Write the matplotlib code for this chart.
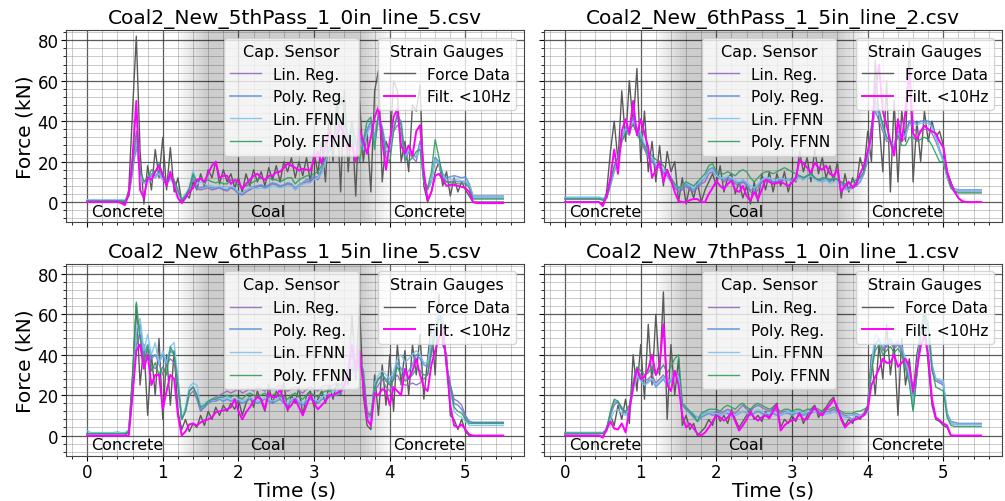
import numpy as np
import matplotlib
matplotlib.use("Agg")
import matplotlib.pyplot as plt
from matplotlib.ticker import MultipleLocator

# time axis, 0.05 s steps from 0 to 5.5 s
t = np.arange(111) * 0.05

titles = ["Coal2_New_5thPass_1_0in_line_5.csv", "Coal2_New_6thPass_1_5in_line_2.csv",
          "Coal2_New_6thPass_1_5in_line_5.csv", "Coal2_New_7thPass_1_0in_line_1.csv"]
regions = ["Concrete", "Coal", "Concrete"]
region_x = [0.05, 2.15, 4.05]

# ---- panel 1 ----
force_1 = [0, 0, 0, 0, 0, 0, 0, 0, 0, 0,
           -1, 6, 45, 82, 25, -1, 18, 6, 26, 12,
           32, 6, 27, 5, 12, 0, 4, 2, 10, 6,
           14, 8, 16, 12, 20, 9, 16, 10, 14, 7,
           12, 5, 14, 8, 16, 10, 15, 8, 17, 11,
           18, 10, 20, 15, 22, 12, 20, 13, 22, 10,
           25, 14, 30, 10, 45, 20, 50, 5, 55, 15,
           40, 3, 50, 20, 35, 5, 55, 65, 10, 30,
           25, 60, 55, 20, 30, 15, 48, 45, 58, 8,
           0, 5, 15, 20, 8, 15, 3, 12, 5, 10,
           6, 3, 0, 0, 0, 0, 0, 0, 0, 0,
           0]
filt_1 = [0, 0, 0, 0, 0, 0, 0, 0, 0.2, -0.5,
          -1.5, 4, 22, 50, 6, 2, 12, 11, 15, 18,
          13, 8, 15, 8, 2, -0.5, 2, 5, 7, 11,
          11.5, 10, 14, 18, 20, 12, 13, 13, 9, 11,
          10, 6.5, 9, 11, 13, 14, 12, 11, 13, 13,
          14.7, 15, 17, 19, 18, 17, 15.6, 16.4, 16, 15.6,
          21, 25, 19, 28, 35, 30, 33, 38, 33, 26,
          28, 20, 36, 30, 24, 32, 42, 47, 30, 16,
          30, 42, 46, 28, 24, 28, 23, 35, 38, 15,
          1, 5, 13, 14, 11, 8, 8.5, 8.5, 8, 7.5,
          7, 5, 0, -0.5, -0.5, -0.5, -0.5, -0.5, -0.5, -0.5,
          -0.5]
linreg_1 = [0.5, 0.5, 0.5, 0.5, 0.5, 0.5, 0.5, 0.5, 0.5, 0.3,
            0.5, 3, 15, 28, 14, 10, 11, 13, 12, 14,
            11, 9, 12, 10, 5, 1, 3, 6, 12, 6.5,
            6, 6.5, 7, 6, 6.5, 7, 6, 5.5, 7, 6,
            4, 3.5, 5, 6, 7, 7.5, 8, 7, 8, 9,
            8.5, 7.5, 8, 9, 8.5, 6, 8, 9, 10, 10,
            12, 11, 15, 20, 25, 28, 35, 40, 38, 30,
            35, 28, 30, 25, 35, 38, 30, 40, 35, 25,
            25, 35, 38, 36, 20, 25, 22, 20, 30, 10,
            6, 10, 22, 18, 12, 10, 10, 10.5, 10, 10,
            10, 8, 2, 2, 2, 2, 2, 2, 2, 2,
            2]
polyreg_1 = [0.7, 0.7, 0.7, 0.7, 0.7, 0.7, 0.7, 0.7, 0.7, 0.7,
             0.5, 3, 16, 30, 15, 10, 12, 14, 13, 15,
             12, 9.5, 12, 10, 5, 1, 3, 6, 13, 7,
             7, 7.5, 8, 7, 7, 7.5, 6.5, 6, 7.5, 6.5,
             4.5, 4, 6, 6.5, 7.5, 8, 8.5, 7.5, 8.5, 9.5,
             9, 8, 8.5, 9.5, 9, 6.5, 8.5, 9.5, 11, 11,
             13, 12, 16, 22, 27, 30, 36, 42, 40, 32,
             37, 30, 32, 28, 36, 40, 32, 42, 37, 27,
             27, 37, 42, 40, 22, 26, 24, 22, 30, 11,
             7, 11, 22, 20, 14, 12, 12.5, 13, 12.5, 12,
             12.5, 9, 3, 3, 3, 3, 3, 3, 3, 3,
             3]
linffnn_1 = [1.2, 1.2, 1.2, 1.2, 1.2, 1.2, 1.2, 1.2, 1.2, 1.2,
             1, 4, 17, 31, 14, 9, 10, 12, 12, 14,
             11, 9, 11, 9, 4, 1.5, 4, 7, 16, 9,
             10, 9, 8, 8, 7.5, 8, 7, 6.5, 8, 7,
             5, 4.5, 6, 7, 7, 6.5, 7, 6.5, 7, 8,
             7.5, 7, 7.5, 8, 8, 6, 8, 9, 9, 9.5,
             11, 12, 14, 20, 26, 30, 34, 38, 36, 30,
             34, 27, 30, 26, 34, 38, 30, 40, 34, 24,
             26, 36, 43, 38, 22, 26, 23, 22, 28, 10,
             7.5, 10, 21, 19, 13, 11, 11, 11, 11, 10.5,
             10.5, 8, 2.5, 2.5, 2.5, 2.5, 2.5, 2.5, 2.5, 2.5,
             2.5]
polyffnn_1 = [0.6, 0.6, 0.6, 0.6, 0.6, 0.6, 0.6, 0.6, 0.6, 0.6,
              0.5, 4, 18, 35, 16, 10, 12, 16, 15, 19,
              14, 10, 13, 11, 6, 1, 3, 7, 14, 10,
              12, 10, 11, 10, 9.5, 10, 9, 9, 11, 10,
              8, 7, 8, 9, 10, 11, 12, 11, 12, 11,
              11, 10, 11, 12, 12, 9, 11, 12, 13, 13,
              14, 15, 18, 22, 26, 30, 40, 52, 45, 28,
              38, 30, 20, 30, 40, 42, 26, 45, 35, 22,
              20, 35, 44, 38, 22, 20, 22, 25, 26, 10,
              7, 15, 31, 22, 12, 10, 9.5, 9.5, 9, 9,
              9, 7, 1.5, 1.5, 1.5, 1.5, 1.5, 1.5, 1.5, 1.5,
              1.5]

# ---- panel 2 ----
force_2 = [0, 0, 0, 0, 0, 0, 0, 0, 0, 0,
           -1, 5, 25, 40, 20, 55, 30, 60, 38, 66,
           20, 45, 15, 30, 10, 28, 8, 25, 15, 20,
           0, 12, -1, 8, 2, 10, 0, 6, 10, 14,
           8, 18, 5, 12, 14, 4, 10, 2, 8, -1,
           10, 0, 14, 6, 15, 5, 14, 8, 15, 5,
           12, 10, 25, 15, 22, 10, 26, 14, 22, 12,
           18, 10, 20, 2, 14, 5, 12, 8, 22, 15,
           35, 20, 70, 40, 15, 60, 5, 50, 10, 45,
           30, 80, 10, 40, 20, 45, 30, 40, 32, 35,
           28, 15, 10, 5, 2, 0, 0, 0, 0, 0,
           0]
filt_2 = [0, 0, 0, 0, 0, 0, 0, 0, 0, 0,
          -2, 3, 12, 26, 14, 35, 41, 34, 50, 33,
          41, 34, 27, 12, 16, 20, 10, 16, 11, 5,
          0.5, 0, 0, 1, 1.5, 1.5, 0, 0, 4, 7,
          10.5, 8, 6.4, 9, 10.5, 6, 5, 8, 3, 0.7,
          5, 1.5, 6, 11, 10, 9, 9.5, 10, 9, 8,
          9.5, 12, 21, 19, 17, 14.6, 19.5, 17, 16, 18,
          14, 13, 16, 5, 8, 10, 7, 9, 14, 18,
          25, 33, 55, 68, 45, 38, 30, 23, 41, 30,
          45, 66, 34, 31, 35, 37.7, 36, 35, 34, 30,
          27, 15, 9, 5, 2, 0.5, 0, 0, 0, 0,
          0]
linreg_2 = [1.5, 1.5, 1.5, 1.5, 1.5, 1.5, 1.5, 1.5, 1.5, 1.5,
            1, 2, 8, 15, 20, 30, 35, 33, 40, 34,
            30, 26, 22, 20, 17, 17, 14, 13, 10, 7,
            5, 6, 8, 6, 5, 7, 9, 10, 14, 15,
            13, 12, 10, 11, 10, 9, 8, 10, 8, 5,
            4, 6, 10, 12, 11, 10, 9, 10, 11, 11,
            10, 11, 12, 11, 13, 14, 12, 11, 10, 11,
            10, 12, 11, 10, 8, 7, 8, 10, 12, 15,
            20, 35, 45, 40, 35, 30, 30, 27, 33, 30,
            32, 40, 36, 35, 35, 36, 36, 34, 30, 25,
            20, 12, 7, 5.5, 5, 5, 5, 5, 5, 5,
            5]
polyreg_2 = [2, 2, 2, 2, 2, 2, 2, 2, 2, 2,
             1.5, 2.5, 9, 17, 22, 32, 37, 35, 42, 36,
             32, 27, 23, 21, 18, 18, 15, 14, 11, 8,
             6, 7, 9, 7, 6, 8, 10, 12, 16, 17,
             14, 12, 11, 12, 11, 10, 9, 11, 9, 6,
             6, 8, 11, 12, 11, 10, 10, 11, 11, 11,
             11, 12, 13, 12, 13, 14, 12, 11, 11, 12,
             10, 12, 11, 9, 7, 6, 7, 8, 10, 14,
             22, 36, 48, 44, 38, 32, 30, 28, 35, 32,
             34, 40, 40, 39, 40, 40, 40, 38, 33, 26,
             21, 13, 8, 6.5, 6, 6, 6, 6, 6, 6,
             6]
linffnn_2 = [2.5, 2.5, 2.5, 2.5, 2.5, 2.5, 2.5, 2.5, 2.5, 2.5,
             2, 3, 9, 16, 21, 31, 36, 35, 40, 37,
             34, 29, 24, 22, 19, 19, 16, 14, 12, 9,
             7, 8, 10, 8, 7, 9, 11, 12, 15, 16,
             13, 12, 12, 13, 12, 11, 10, 11, 10, 8,
             7, 9, 11, 12, 12, 11, 11, 12, 11, 11,
             10, 11, 12, 11, 12, 13, 11, 10, 10, 11,
             9, 10, 10, 8, 6, 6, 7, 9, 11, 15,
             22, 35, 46, 43, 37, 31, 30, 28, 34, 31,
             33, 38, 39, 38, 39, 39, 39, 37, 32, 25,
             20, 12, 7, 6, 5.5, 5.5, 5.5, 5.5, 5.5, 5.5,
             5.5]
polyffnn_2 = [1.5, 1.5, 1.5, 1.5, 1.5, 1.5, 1.5, 1.5, 1.5, 1.5,
              1, 2, 10, 18, 22, 30, 34, 36, 38, 34,
              30, 28, 24, 23, 21, 20, 18, 15, 12, 9,
              7, 8, 10, 9, 8, 10, 12, 14, 18, 19,
              15, 14, 14, 15, 14, 13, 15, 16, 15, 12,
              10, 12, 14, 15, 15, 14, 15, 16, 17, 16,
              15, 14, 13, 12, 13, 14, 12, 11, 12, 12,
              11, 12, 11, 10, 9, 9, 10, 11, 12, 15,
              24, 38, 50, 46, 38, 32, 30, 26, 33, 28,
              28, 32, 32, 30, 31, 32, 31, 28, 24, 20,
              20, 14, 7, 5, 4.5, 4.5, 4.5, 4.5, 4.5, 4.5,
              4.5]

# ---- panel 3 ----
force_3 = [0, 0, 0, 0, 0, 0, 0, 0, 0, 0,
           0, 2, 30, 65, 25, 45, 10, 40, 20, 48,
           8, 40, 15, 42, 12, 3, 8, 2, 6, 4,
           10, 5, 12, 8, 14, 10, 15, 12, 16, 13,
           18, 10, 16, 20, 14, 22, 17, 12, 25, 16,
           22, 18, 26, 12, 20, 16, 24, 10, 20, 22,
           14, 18, 22, 16, 25, 18, 26, 20, 32, 25,
           60, 28, 65, 20, 5, 3, 30, 10, 35, 15,
           40, 12, 45, 25, 42, 20, 45, 30, 50, 18,
           38, 55, 30, 70, 45, 40, 10, 8, 3, 8,
           2, 0, 0, 0, 0, 0, 0, 0, 0, 0,
           0]
filt_3 = [0, 0, 0, 0, 0, 0, 0, 0, 0, 0,
          0, 0, 20, 42, 45, 33, 40, 25, 30, 30,
          13, 22, 30, 28, 10, 0, 2, 5.5, 6, 5,
          6.5, 7.5, 8, 9, 11.5, 12, 12.4, 13, 14, 18,
          12, 8, 11.5, 14, 17, 19, 18, 13, 21, 19,
          19, 23, 17, 13, 15, 18, 14, 10, 15, 20,
          16, 13, 15, 17, 20, 20, 21, 22, 25, 31,
          45, 33, 42, 25, 8, 5, 21, 20, 23, 22,
          15, 24, 22, 20, 33, 28, 32, 38, 30, 24,
          22, 35, 42, 48, 53, 35, 15, 5, 4, 5.5,
          3, 0.5, 0, 0, 0, 0, 0, 0, 0, 0,
          0]
linreg_3 = [1, 1, 1, 1, 1, 1, 1, 1, 1, 1,
            1, 1.5, 20, 45, 50, 38, 42, 35, 33, 36,
            30, 35, 38, 36, 25, 8, 12, 20, 22, 18,
            12, 14, 16, 18, 19, 20, 21, 22, 21, 22,
            23, 21, 22, 23, 22, 24, 23, 22, 24, 23,
            24, 25, 23, 22, 23, 24, 22, 21, 23, 24,
            23, 22, 24, 25, 24, 25, 26, 25, 27, 30,
            33, 30, 35, 32, 12, 10, 22, 25, 28, 24,
            22, 28, 30, 26, 25, 25, 26, 25, 26, 28,
            30, 40, 50, 58, 55, 35, 25, 18, 17, 15,
            10, 7, 6.5, 6.5, 6.5, 6.5, 6.5, 6.5, 6.5, 6.5,
            6.5]
polyreg_3 = [1, 1, 1, 1, 1, 1, 1, 1, 1, 1,
             1, 2, 22, 50, 55, 40, 45, 38, 40, 36,
             40, 35, 42, 40, 28, 8, 13, 22, 24, 20,
             13, 14, 16, 17, 17, 18, 17, 18, 17, 18,
             17, 16, 17, 18, 17, 16, 17, 18, 17, 16,
             17, 18, 16, 15, 17, 18, 16, 15, 17, 18,
             17, 16, 18, 18, 19, 20, 20, 21, 24, 28,
             35, 30, 36, 30, 10, 9, 24, 28, 30, 28,
             26, 30, 36, 33, 30, 32, 35, 40, 38, 35,
             34, 45, 52, 60, 56, 35, 25, 16, 15, 13,
             9, 7, 6.5, 6.5, 6.5, 6.5, 6.5, 6.5, 6.5, 6.5,
             6.5]
linffnn_3 = [2.5, 1.5, 1.5, 1.5, 1.5, 1.5, 1.5, 1.5, 2, 1.5,
             1.5, 3, 22, 52, 58, 42, 50, 40, 46, 35,
             42, 36, 44, 46, 28, 8, 14, 24, 26, 25,
             14, 16, 17, 18, 18, 19, 18, 19, 18, 18,
             18, 17, 18, 19, 18, 17, 18, 19, 18, 17,
             18, 19, 17, 16, 18, 19, 17, 16, 18, 19,
             18, 17, 19, 20, 21, 22, 22, 24, 28, 35,
             50, 38, 40, 32, 9, 8, 26, 30, 32, 30,
             28, 32, 38, 40, 36, 38, 40, 42, 40, 36,
             36, 48, 55, 62, 58, 35, 22, 12, 10, 9,
             7, 5, 5, 5, 5, 5, 5, 5, 5, 5,
             5]
polyffnn_3 = [1, 1, 1, 1, 1, 1, 1, 1, 1, 1,
              1, 2, 28, 66, 48, 36, 44, 32, 36, 30,
              34, 30, 44, 40, 25, 8, 12, 22, 24, 20,
              14, 15, 17, 18, 18, 19, 19, 20, 19, 20,
              19, 18, 20, 21, 20, 19, 20, 21, 19, 20,
              21, 20, 19, 18, 20, 21, 19, 18, 20, 21,
              20, 19, 21, 22, 22, 23, 24, 25, 28, 33,
              40, 32, 38, 32, 11, 10, 24, 28, 30, 27,
              25, 28, 34, 30, 27, 28, 30, 33, 32, 30,
              30, 42, 50, 58, 55, 34, 24, 14, 12, 11,
              8, 6, 6, 6, 6, 6, 6, 6, 6, 6,
              6]

# ---- panel 4 ----
force_4 = [0, 0, 0, 0, 0, 0, 0, 0, 0, 0,
           -0.5, 4, 10, 5, 15, 8, 18, 6, 40, 22,
           45, 18, 55, 25, 60, 30, 71, 8, 45, 20,
           38, 5, 10, 3, 6, 0, 2, 4, 8, 5,
           12, 7, 10, 6, 13, 8, 4, 7, 10, 13,
           8, 10, 7, 12, 9, 14, 16, 4, 8, 6,
           10, 7, 12, 6, 10, 13, 15, 9, 12, 14,
           17, 19, 12, 9, 5, 8, 6, 10, 8, 11,
           15, 40, 20, 45, 28, 55, 30, 45, 10, 48,
           25, 38, 20, 40, 50, 60, 35, 15, 8, 7,
           5, 4, 0, 0, 0, 0, 0, 0, 0, 0,
           0]
filt_4 = [0, 0, 0, 0, 0, 0, 0, 0, 0, 0,
          -1, 3, 7, 3.5, 3, 6, 1.6, 12, 24, 33,
          28, 29, 33, 40, 30, 35, 55, 25, 22, 32,
          25, 10, 4, 6, 3.5, 1, 0, 1.5, 4, 7,
          10, 9, 7.4, 9, 11.5, 7, 2.5, 5, 8, 11.5,
          9, 7.4, 9, 10, 8.5, 12, 15, 2.5, 5, 6.6,
          7.5, 8, 10.7, 8, 8, 11.5, 14, 11, 10, 13,
          15, 18, 14, 8, 4, 6, 7.5, 8, 9, 10,
          13, 25, 29, 33, 38, 36, 36, 40, 34, 36,
          38, 34, 22, 33, 44, 49.5, 40, 18, 9, 7.5,
          6, 5, 0, 0, 0, 0, 0, 0, 0, 0,
          0]
linreg_4 = [1, 1, 1, 1, 1, 1, 1, 1, 1, 1,
            1, 3, 10, 15, 17, 14, 11, 14, 25, 33,
            30, 27, 28, 30, 26, 28, 30, 26, 28, 32,
            30, 15, 13, 12, 10, 9, 10, 11, 12, 11,
            12, 11, 12, 13, 12, 11, 13, 15, 13, 12,
            14, 15, 14, 13, 12, 13, 12, 11, 12, 12,
            11, 12, 12, 11, 12, 12, 13, 12, 11, 12,
            12, 13, 12, 11, 10, 10, 10, 11, 10, 11,
            13, 35, 45, 48, 42, 44, 46, 43, 45, 42,
            35, 28, 14, 30, 50, 58, 52, 32, 27, 26,
            25, 10, 6, 5.5, 5.5, 5.5, 5.5, 5.5, 5.5, 5.5,
            5.5]
polyreg_4 = [1.5, 1.5, 1.5, 1.5, 1.5, 1.5, 1.5, 1.5, 1.5, 1.5,
             1.5, 3, 11, 17, 16, 13, 11, 13, 24, 30,
             28, 25, 27, 28, 24, 26, 28, 25, 27, 30,
             30, 15, 13, 11, 9, 7, 9, 10, 11, 10,
             11, 10, 11, 11, 10, 10, 11, 12, 11, 10,
             11, 12, 11, 10, 10, 11, 10, 10, 11, 11,
             10, 11, 11, 10, 11, 11, 12, 11, 10, 11,
             11, 12, 11, 10, 9, 9, 8, 9, 9, 10,
             12, 33, 45, 47, 43, 45, 48, 44, 46, 43,
             36, 30, 13, 32, 52, 58, 55, 35, 28, 27,
             26, 11, 7, 6.5, 6, 6, 6, 6, 6, 6,
             6]
linffnn_4 = [1, 1, 1, 1, 1, 1, 1, 1, 1, 1,
             1, 2, 8, 12, 13, 11, 10, 13, 22, 30,
             27, 25, 26, 28, 25, 27, 29, 26, 28, 31,
             29, 16, 14, 12, 11, 9, 10, 11, 12, 11,
             11, 10, 11, 12, 11, 10, 11, 12, 11, 11,
             12, 13, 12, 11, 11, 12, 11, 10, 11, 12,
             11, 12, 12, 11, 12, 12, 12, 11, 10, 11,
             11, 12, 11, 10, 9, 10, 10, 10, 10, 10,
             11, 36, 50, 48, 44, 46, 47, 45, 47, 44,
             38, 30, 15, 33, 52, 56, 50, 34, 28, 28,
             27, 10, 6, 5.5, 5.5, 5.5, 5.5, 5.5, 5.5, 5.5,
             5.5]
polyffnn_4 = [1, 1, 1, 1, 1, 1, 1, 1, 1, 1,
              1, 3, 12, 18, 17, 13, 12, 15, 27, 34,
              32, 30, 31, 34, 30, 32, 35, 31, 34, 38,
              40, 16, 14, 12, 10, 7, 11, 12, 13, 13,
              13, 12, 14, 15, 14, 13, 15, 16, 14, 13,
              15, 16, 15, 14, 13, 14, 13, 12, 13, 13,
              12, 13, 13, 12, 13, 13, 14, 13, 12, 13,
              13, 14, 13, 12, 11, 11, 11, 12, 12, 13,
              14, 32, 42, 45, 40, 42, 44, 41, 43, 40,
              33, 26, 12, 30, 50, 62, 55, 33, 24, 23,
              22, 9, 5, 4.5, 4.5, 4.5, 4.5, 4.5, 4.5, 4.5,
              4.5]

panels = [
    (titles[0], force_1, filt_1, linreg_1, polyreg_1, linffnn_1, polyffnn_1),
    (titles[1], force_2, filt_2, linreg_2, polyreg_2, linffnn_2, polyffnn_2),
    (titles[2], force_3, filt_3, linreg_3, polyreg_3, linffnn_3, polyffnn_3),
    (titles[3], force_4, filt_4, linreg_4, polyreg_4, linffnn_4, polyffnn_4),
]

fig, axes = plt.subplots(2, 2, figsize=(10.05, 5.02), dpi=100, sharex=True, sharey=True)
fig.subplots_adjust(left=0.066, right=0.997, top=0.938, bottom=0.09, wspace=0.044, hspace=0.215)

for ax, (title, force, filt, lr, pr, lf, pf) in zip(axes.flat, panels):
    # coal zone: soft-edged grey band built from stacked spans
    for i in range(10):
        ax.axvspan(1.2 + i * 0.04, 4.0 - i * 0.04, color="k", alpha=0.02, lw=0, zorder=0.6)

    ax.plot(t, force, color="#5a5a5a", lw=1.0, zorder=2)
    l1, = ax.plot(t, lr, color="#9467bd", lw=1.0, alpha=0.9, zorder=3)
    l2, = ax.plot(t, pr, color="#5b8fd6", lw=1.2, alpha=0.85, zorder=3)
    l3, = ax.plot(t, lf, color="#7cc4ee", lw=1.0, alpha=0.9, zorder=3)
    l4, = ax.plot(t, pf, color="#2e9e5e", lw=1.0, alpha=0.9, zorder=3)
    l5, = ax.plot(t, filt, color="#ff00ff", lw=1.4, zorder=4)
    g1, = ax.plot([], [], color="#5a5a5a", lw=1.0)

    cap = ax.legend([l1, l2, l3, l4], ["Lin. Reg.", "Poly. Reg.", "Lin. FFNN", "Poly. FFNN"],
                    title="Cap. Sensor", loc="upper right", bbox_to_anchor=(0.655, 1.0),
                    fontsize=11, title_fontsize=11.5, labelspacing=0.5)
    ax.add_artist(cap)
    ax.legend([g1, l5], ["Force Data", "Filt. <10Hz"], title="Strain Gauges",
              loc="upper right", fontsize=11, title_fontsize=11.5, labelspacing=0.5)

    for name, xr in zip(regions, region_x):
        ax.text(xr, -4.5, name, fontsize=11.5, va="center", ha="left", zorder=5)

    ax.set_title(title, fontsize=14.5, pad=5)
    ax.xaxis.set_major_locator(MultipleLocator(1))
    ax.xaxis.set_minor_locator(MultipleLocator(0.2))
    ax.yaxis.set_major_locator(MultipleLocator(20))
    ax.yaxis.set_minor_locator(MultipleLocator(4))
    ax.grid(which="major", color="#333333", lw=0.9, alpha=0.8)
    ax.grid(which="minor", color="#999999", lw=0.6, alpha=0.6)
    ax.set_axisbelow(True)
    ax.tick_params(labelsize=12, pad=2)
    for s in ax.spines.values():
        s.set_color("#444444")

ax = axes[0, 0]
ax.set_xlim(-0.275, 5.775)
ax.set_ylim(-10, 85)
for a in axes[:, 0]:
    a.set_ylabel("Force (kN)", fontsize=14.5, labelpad=2)
for a in axes[1, :]:
    a.set_xlabel("Time (s)", fontsize=14.5, labelpad=-1)

fig.savefig("out.png", dpi=100)
